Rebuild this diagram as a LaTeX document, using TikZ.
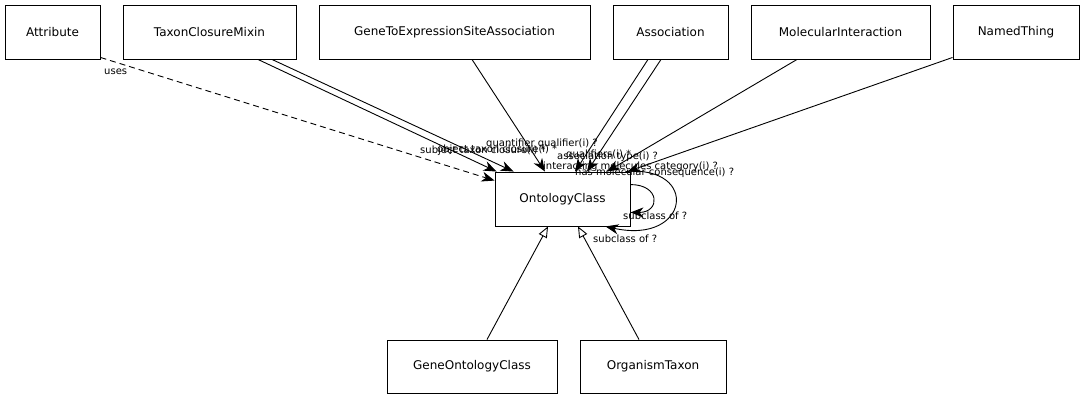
\documentclass[tikz,border=0pt]{standalone}
\usepackage{fontspec}
\setmainfont{DejaVu Sans}
\usetikzlibrary{arrows.meta}
\begin{document}
\begin{tikzpicture}[x=1pt,y=-1pt,
  cls/.style={draw,line width=0.9pt,inner sep=0pt,font=\fontsize{12}{14}\selectfont,anchor=center},
  rel/.style={line width=0.9pt,-{Stealth[length=13pt,width=10pt,inset=4pt]}},
  isa/.style={line width=0.9pt,-{Triangle[open,length=11pt,width=9pt,fill=white]}},
  lbl/.style={font=\fontsize{10}{11}\selectfont,inner sep=0pt,anchor=west}]
\useasboundingbox (0,0) rectangle (1084,400);
\node[cls,minimum width=95pt,minimum height=54pt] (attr) at (52.5,32) {Attribute};
\node[cls,minimum width=173pt,minimum height=54pt] (tcm) at (209.5,32) {TaxonClosureMixin};
\node[cls,minimum width=271pt,minimum height=54pt] (gtesa) at (454.5,32) {GeneToExpressionSiteAssociation};
\node[cls,minimum width=115pt,minimum height=54pt] (assoc) at (670.5,32) {Association};
\node[cls,minimum width=179pt,minimum height=54pt] (mi) at (840.5,32) {MolecularInteraction};
\node[cls,minimum width=126pt,minimum height=54pt] (nt) at (1016,32) {NamedThing};
\node[cls,minimum width=135pt,minimum height=54pt] (oc) at (562.5,199) {OntologyClass};
\node[cls,minimum width=170pt,minimum height=53pt] (goc) at (472,366.5) {GeneOntologyClass};
\node[cls,minimum width=146pt,minimum height=53pt] (ot) at (653,366.5) {OrganismTaxon};

% uses
\draw[rel,dash pattern=on 6pt off 4pt] ([yshift=2pt]attr.south east) -- ([yshift=-9pt]oc.north west);
\node[lbl] (l1) at (104,72) {uses};
% taxon closures
\draw[rel] ([xshift=48.5pt]tcm.south) -- ([xshift=2pt]oc.north west);
\draw[rel] ([xshift=62.5pt]tcm.south) -- ([xshift=19pt]oc.north west);
\node[lbl] (l2) at (420,151) {subject taxon closure(i) *};
\node[lbl] (l3) at (437,150) {object taxon closure(i) *};
% quantifier qualifier
\draw[rel] ([xshift=17.5pt]gtesa.south) -- ([xshift=-17.5pt]oc.north);
\node[lbl] (l4) at (486,144) {quantifier qualifier(i) ?};
% association
\draw[rel] ([xshift=-22.5pt]assoc.south) -- ([xshift=12.5pt]oc.north);
\draw[rel] ([xshift=-9.5pt]assoc.south) -- ([xshift=24.5pt]oc.north);
\node[lbl] (l5) at (566,155) {qualifiers(i) *};
\node[lbl] (l6) at (557,157) {association type(i) ?};
% molecular interaction
\draw[rel] ([xshift=-43.5pt]mi.south) -- ([xshift=44.5pt]oc.north);
\node[lbl] (l7) at (543,167) {interacting molecules category(i) ?};
% named thing
\draw[rel] ([yshift=2pt]nt.south west) -- ([xshift=-3pt]oc.north east);
\node[lbl] (l8) at (575,173) {has molecular consequence(i) ?};
% self loops
\draw[rel] ([yshift=-13pt]oc.north east) .. controls +(30,0) and +(30,0) .. ([yshift=14pt]oc.south east);
\node[lbl] (l9) at (623,216) {subclass of ?};
\draw[rel] ([xshift=-5pt]oc.north east) .. controls (700,165) and (690,245) .. ([xshift=-25pt]oc.south east);
\node[lbl] (l10) at (593,239) {subclass of ?};
% inheritance
\draw[isa] ([xshift=15pt]goc.north) -- ([xshift=-14.5pt]oc.south);
\draw[isa] ([xshift=-14pt]ot.north) -- ([xshift=15.5pt]oc.south);
\end{tikzpicture}
\end{document}
